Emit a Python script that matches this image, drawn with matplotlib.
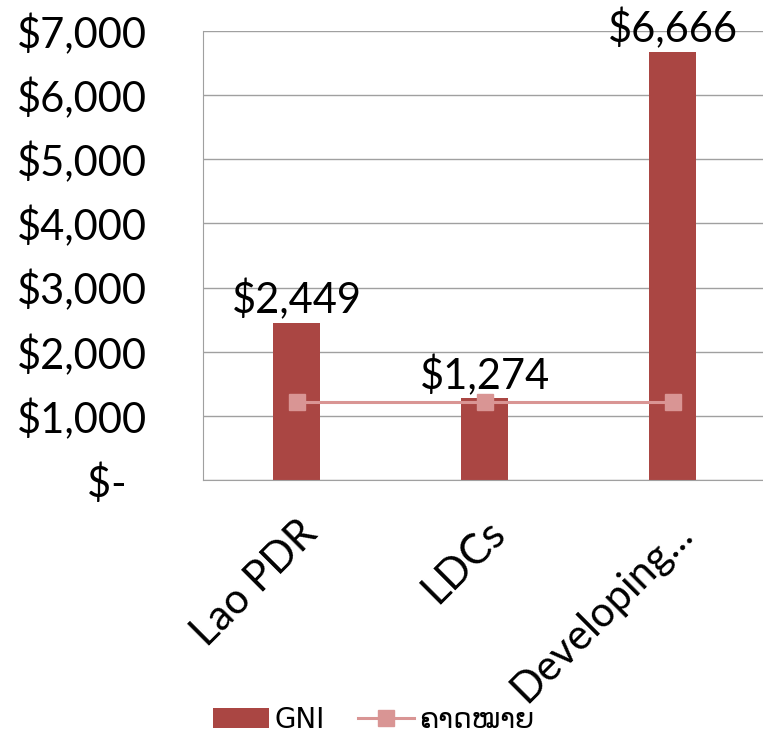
import matplotlib
matplotlib.use('Agg')
import matplotlib.pyplot as plt
import numpy as np

### data
categories = ['Lao PDR', 'LDCs', 'Developing...']
gni = [2449, 1274, 6666]
target = [1222, 1222, 1222]
gni_labels = ['$2,449', '$1,274', '$6,666']
yticks = [0, 1000, 2000, 3000, 4000, 5000, 6000, 7000]
ytick_labels = ['$-  ', '$1,000', '$2,000', '$3,000', '$4,000', '$5,000', '$6,000', '$7,000']

bar_color = '#AA4643'
line_color = '#D99594'

plt.rcParams['font.family'] = ['Lato', 'DejaVu Sans']
fs = 30

fig = plt.figure(figsize=(7.63, 7.33), dpi=100)
ax = fig.add_axes([0.266, 0.345, 0.739, 0.613])

x = np.arange(len(categories))
bars = ax.bar(x, gni, width=0.25, color=bar_color, label='GNI', zorder=2)
line, = ax.plot(x, target, color=line_color, lw=2.2, marker='s', ms=11.5,
                label='ຄາດໝາຍ', zorder=3)

for xi, v, lab in zip(x, gni, gni_labels):
    ax.text(xi, v + 40, lab, ha='center', va='bottom', fontsize=fs, zorder=4)

ax.set_xlim(-0.5, 2.5)
ax.set_ylim(0, 7000)
ax.set_yticks(yticks)
ax.set_yticklabels(ytick_labels, fontsize=fs)
ax.set_xticks(x)
ax.set_xticklabels(categories, fontsize=fs, rotation=45, ha='right',
                   rotation_mode='anchor')
ax.tick_params(axis='y', length=0, pad=40)
ax.tick_params(axis='x', length=0, pad=24)
ax.grid(axis='y', color='#A0A0A0', lw=1, zorder=0)
for s in ['top', 'right']:
    ax.spines[s].set_visible(False)
for s in ['left', 'bottom']:
    ax.spines[s].set_color('#A0A0A0')

fig.legend([bars, line], ['GNI', 'ຄາດໝາຍ'], loc='lower left',
           bbox_to_anchor=(0.247, -0.035), ncol=2, frameon=False,
           handlelength=2.0, columnspacing=1.2, handletextpad=0.2,
           prop={'family': ['DejaVu Sans'], 'size': 20})

fig.savefig('out.png', dpi=100)
